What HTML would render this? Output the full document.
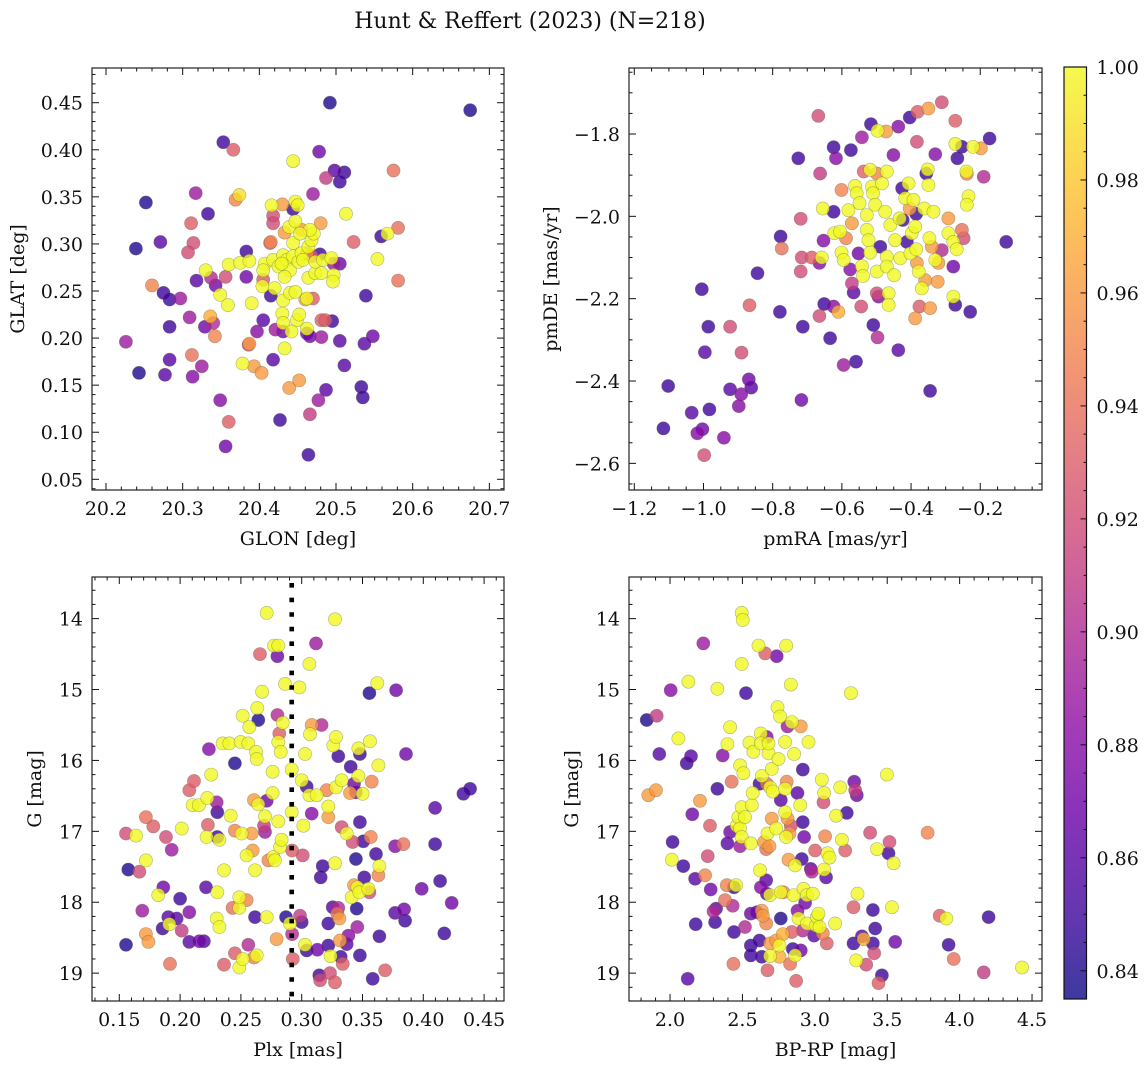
<!DOCTYPE html>
<html><head><meta charset="utf-8">
<style>
html,body{margin:0;padding:0;background:#fff;}
svg{display:block;font-family:"DejaVu Serif","Liberation Serif",serif;}
</style></head>
<body>
<svg id="fig" width="1148" height="1067" viewBox="0 0 1148 1067" xmlns="http://www.w3.org/2000/svg">
<text x="530" y="28" font-size="22" text-anchor="middle" fill="#111">Hunt &amp; Reffert (2023) (N=218)</text>
</svg>
<script>
// ---------- Panel 1 : GLON vs GLAT ----------
const glon=[20.492,20.675,20.353,20.366,20.478,20.444,20.498,20.511,20.575,20.487,20.505,20.252,20.317,20.369,20.374,20.333,20.470,20.416,20.430,20.447,20.450,20.513,20.418,20.418,20.444,20.311,20.314,20.307,20.271,20.239,20.318,20.337,20.356,20.260,20.343,20.275,20.283,20.297,20.383,20.383,20.414,20.415,20.405,20.415,20.330,20.349,20.359,20.360,20.375,20.387,20.390,20.404,20.420,
20.407,20.418,20.405,20.425,20.431,20.436,20.440,20.444,20.451,20.455,20.457,20.464,20.468,20.471,20.466,20.444,20.439,20.447,20.453,20.429,20.433,20.431,20.440,20.447,20.464,20.473,20.481,20.473,20.483,20.494,20.497,20.496,20.462,20.430,20.431,20.449,20.452,20.442,20.433,20.462,20.378,20.554,20.567,
20.431,20.421,20.462,20.466,20.481,20.481,20.486,20.495,20.505,20.460,20.470,20.433,20.455,20.480,20.462,20.468,20.479,20.497,20.505,20.523,20.559,20.581,20.581,20.539,20.537,20.548,20.511,20.533,20.535,20.487,20.477,20.466,20.464,20.427,20.439,20.452,20.418,20.405,20.397,20.386,20.387,20.393,20.403,20.340,20.336,20.342,20.329,20.309,20.283,20.226,20.243,20.277,20.283,20.312,20.313,20.325,20.349,20.360,20.356];
const glat=[0.450,0.442,0.408,0.400,0.398,0.388,0.378,0.376,0.378,0.370,0.366,0.344,0.354,0.347,0.352,0.332,0.353,0.341,0.342,0.345,0.341,0.332,0.330,0.322,0.337,0.322,0.301,0.291,0.302,0.295,0.261,0.264,0.265,0.256,0.256,0.248,0.241,0.242,0.292,0.265,0.301,0.302,0.262,0.245,0.272,0.246,0.235,0.278,0.280,0.282,0.237,0.255,0.253,
0.279,0.283,0.272,0.276,0.288,0.283,0.272,0.287,0.281,0.290,0.283,0.297,0.304,0.311,0.315,0.301,0.318,0.324,0.311,0.279,0.265,0.240,0.248,0.249,0.264,0.269,0.269,0.281,0.283,0.285,0.267,0.260,0.242,0.226,0.216,0.219,0.225,0.207,0.189,0.210,0.173,0.284,0.311,
0.207,0.209,0.205,0.202,0.201,0.219,0.219,0.218,0.197,0.241,0.242,0.312,0.315,0.322,0.290,0.287,0.289,0.279,0.279,0.302,0.308,0.317,0.261,0.245,0.194,0.202,0.171,0.148,0.137,0.145,0.134,0.119,0.076,0.113,0.147,0.155,0.177,0.219,0.207,0.193,0.194,0.170,0.163,0.216,0.223,0.202,0.212,0.222,0.212,0.196,0.163,0.161,0.177,0.182,0.159,0.170,0.134,0.111,0.085];
const prob1=[0.84,0.84,0.85,0.93,0.87,1.0,0.86,0.85,0.94,0.91,0.85,0.84,0.89,0.95,0.99,0.85,0.89,1.0,0.96,1.0,1.0,1.0,0.92,0.92,0.85,0.93,0.92,0.92,0.86,0.84,0.86,0.90,0.92,0.95,0.87,0.85,0.85,0.89,0.85,0.87,0.93,0.95,0.93,0.85,1.0,1.0,1.0,1.0,1.0,1.0,1.0,1.0,1.0,
1,1,1,1,1,1,1,1,1,1,1,1,1,1,1,1,1,1,1,1,1,1,1,1,1,1,1,1,1,1,1,1,1,1,1,1,1,1,1,1,1,1,1,
0.87,0.89,0.87,0.87,0.89,0.93,0.93,0.85,0.86,0.96,0.93,0.96,0.96,0.96,0.95,0.93,0.85,0.89,0.87,0.93,0.85,0.94,0.94,0.85,0.86,0.87,0.86,0.85,0.85,0.86,0.89,0.91,0.85,0.85,0.96,0.96,0.86,0.86,0.88,0.92,0.96,0.96,0.96,0.90,0.97,0.95,0.87,0.89,0.85,0.89,0.84,0.86,0.86,0.94,0.88,0.89,0.88,0.93,0.87];

// ---------- Panel 2 : pmRA vs pmDE ----------
const pmra=[-1.116,-1.102,-1.034,-1.018,-1.003,-0.998,-1.005,-0.986,-0.996,-0.983,-0.941,-0.923,-0.923,-0.891,-0.898,-0.890,-0.869,-0.862,-0.867,-0.844,-0.777,-0.774,-0.779,-0.726,-0.719,-0.716,-0.719,-0.713,-0.717,-0.687,-0.668,-0.663,-0.665,-0.658,-0.653,-0.655,-0.665,-0.651,-0.634,-0.624,-0.624,-0.617,-0.610,-0.624,-0.595,-0.622,-0.605,-0.601,-0.595,-0.601,-0.588,-0.581,-0.576,-0.571,-0.571,-0.566,-0.562,-0.557,-0.549,-0.552,-0.542,-0.539,-0.574,-0.559,-0.542,-0.537,-0.544,-0.528,-0.528,-0.523,-0.518,-0.513,-0.516,-0.518,-0.509,-0.510,-0.504,-0.499,-0.497,-0.472,-0.499,-0.494,-0.497,-0.489,-0.499,-0.484,-0.475,-0.470,-0.470,-0.470,-0.465,-0.465,-0.460,-0.451,-0.449,-0.446,-0.437,-0.437,-0.433,-0.431,-0.426,-0.424,-0.417,-0.412,-0.404,-0.407,-0.404,-0.402,-0.398,-0.393,-0.385,-0.388,-0.385,-0.383,-0.381,-0.378,-0.376,-0.388,-0.383,-0.369,-0.359,-0.362,-0.356,-0.352,-0.350,-0.350,-0.347,-0.345,-0.345,-0.340,-0.335,-0.330,-0.330,-0.323,-0.321,-0.311,-0.311,-0.292,-0.292,-0.278,-0.278,-0.278,-0.272,-0.268,-0.272,-0.272,-0.253,-0.266,-0.253,-0.248,-0.240,-0.239,-0.234,-0.239,-0.229,-0.221,-0.198,-0.190,-0.173,-0.125];
const pmde=[-2.515,-2.412,-2.477,-2.527,-2.517,-2.580,-2.177,-2.268,-2.330,-2.469,-2.538,-2.268,-2.420,-2.432,-2.461,-2.331,-2.396,-2.416,-2.216,-2.138,-2.049,-2.078,-2.232,-1.859,-2.006,-2.100,-2.134,-2.268,-2.446,-2.100,-1.756,-1.896,-2.113,-2.100,-2.059,-1.981,-2.242,-2.213,-2.296,-1.989,-1.832,-1.859,-2.232,-2.219,-2.361,-2.041,-2.037,-2.088,-2.106,-1.936,-2.053,-1.985,-2.129,-2.017,-2.163,-2.185,-1.926,-1.944,-1.968,-2.090,-2.121,-2.145,-1.839,-2.353,-1.808,-1.891,-2.219,-1.997,-2.033,-2.058,-1.887,-1.928,-1.776,-2.088,-2.264,-1.944,-1.972,-1.896,-1.792,-1.794,-2.187,-2.195,-2.294,-2.074,-2.134,-1.920,-1.989,-2.098,-2.122,-1.891,-2.187,-2.215,-2.021,-1.851,-2.143,-2.058,-2.325,-1.782,-2.005,-2.102,-1.932,-2.009,-1.956,-2.062,-1.760,-1.920,-1.981,-2.090,-2.041,-1.960,-1.994,-2.025,-2.080,-1.819,-1.746,-2.134,-2.219,-2.248,-2.113,-2.175,-2.155,-1.981,-1.896,-1.886,-1.924,-1.738,-2.053,-2.223,-2.424,-2.074,-1.989,-1.849,-2.106,-2.159,-2.113,-1.723,-2.082,-2.005,-2.041,-2.062,-2.122,-2.195,-2.215,-2.080,-1.768,-1.824,-1.831,-1.859,-2.033,-2.053,-1.891,-1.897,-1.951,-1.972,-2.232,-1.831,-1.835,-1.904,-1.811,-2.062];
const prob2=[0.85,0.85,0.86,0.88,0.87,0.92,0.85,0.85,0.86,0.85,0.88,0.92,0.86,0.88,0.88,0.92,0.87,0.86,0.93,0.85,0.85,0.94,0.85,0.85,0.92,0.92,0.92,0.85,0.87,0.93,0.92,0.91,0.88,1,0.88,1,0.92,0.85,0.85,0.85,0.85,0.88,0.97,0.88,0.89,1,1,1,1,0.95,0.95,1,0.88,0.96,0.91,0.86,1,1,1,0.87,1,1,0.85,0.85,0.89,0.93,0.92,1,1,1,1,1,0.85,1,0.85,1,1,0.95,1,0.96,0.92,0.88,0.90,0.85,1,1,1,1,1,1,1,1,1,0.88,1,1,0.86,0.88,1,1,0.85,0.85,1,0.85,0.85,1,0.96,1,1,1,0.85,1,1,0.92,0.93,1,0.93,0.96,0.96,1,0.96,1,0.85,1,1,0.96,1,0.96,0.85,0.96,1,0.88,1,0.96,0.96,0.92,0.90,0.96,1,1,0.87,1,0.85,1,0.93,1,0.85,0.85,0.94,0.92,1,0.95,1,1,0.85,1,0.96,0.90,0.85,0.85];

// ---------- Panel 3 : Plx vs G ----------
const plx=[0.1555,0.1555,0.1574,0.1637,0.1665,0.1689,0.1719,0.1719,0.1719,0.1739,0.1780,0.1821,0.1856,0.1862,0.1884,0.1903,0.1911,0.1917,0.1931,0.1972,0.2000,0.2013,0.2013,0.2076,0.2076,0.2076,0.2103,0.2114,0.2155,0.2158,0.2196,0.2213,0.2224,0.2218,0.2229,0.2237,0.2256,0.2301,0.2306,0.2301,0.2306,0.2306,0.2323,0.2323,0.2350,0.2361,0.2361,0.2405,0.2416,0.2451,0.2451,0.2451,0.2432,0.2487,0.2487,0.2487,0.2498,0.2506,0.2515,0.2515,0.2547,0.2547,0.2561,0.2561,0.2569,0.2589,0.2597,0.2608,0.2608,0.2616,0.2630,0.2616,0.2624,0.2630,0.2635,0.2643,0.2643,0.2657,0.2674,0.2698,0.2698,0.2690,0.2712,0.2712,0.2712,0.2726,0.2761,0.2761,0.2767,0.2780,0.2772,0.2794,0.2800,0.2808,0.2800,0.2808,0.2816,0.2808,0.2822,0.2827,0.2835,0.2844,0.2863,0.2871,0.2918,0.2918,0.2904,0.2921,0.2921,0.2927,0.2981,0.2986,0.3000,0.3000,0.3014,0.3008,0.3027,0.3027,0.3041,0.3041,0.3063,0.3068,0.3063,0.3082,0.3082,0.3118,0.3123,0.3129,0.3145,0.3151,0.3156,0.3164,0.3173,0.3206,0.3219,0.3219,0.3219,0.3219,0.3233,0.3238,0.3255,0.3260,0.3274,0.3282,0.3282,0.3274,0.3274,0.3293,0.3301,0.3301,0.3310,0.3315,0.3321,0.3329,0.3329,0.3337,0.3370,0.3370,0.3384,0.3397,0.3403,0.3411,0.3419,0.3430,0.3430,0.3446,0.3446,0.3452,0.3457,0.3457,0.3466,0.3479,0.3479,0.3479,0.3466,0.3474,0.3501,0.3507,0.3515,0.3557,0.3548,0.3557,0.3562,0.3568,0.3576,0.3584,0.3611,0.3622,0.3631,0.3631,0.3639,0.3639,0.3686,0.3768,0.3768,0.3776,0.3836,0.3842,0.3850,0.3858,0.3987,0.4097,0.4097,0.4138,0.4173,0.4234,0.4330,0.4385];
const gmag3=[18.60,17.03,17.54,17.06,17.57,18.12,16.80,17.41,18.45,18.56,16.93,17.90,18.37,17.79,17.08,18.21,18.31,18.87,17.26,18.23,17.95,16.96,18.40,18.14,18.56,16.42,16.63,16.29,16.63,18.55,18.55,17.79,16.53,17.08,16.91,15.84,16.20,16.59,16.73,18.23,17.86,17.08,17.12,18.35,15.76,18.88,17.55,15.76,16.78,18.72,16.04,16.99,18.08,18.08,17.93,18.92,15.74,17.03,15.37,18.80,17.97,17.34,18.60,15.76,15.53,17.03,17.27,18.78,16.56,18.21,18.75,17.55,15.88,15.98,15.26,15.43,16.62,14.50,15.03,16.79,17.01,16.92,16.57,13.92,18.21,17.41,16.16,16.46,17.36,17.41,14.38,18.52,14.53,14.38,15.36,16.86,15.62,15.74,17.22,15.88,17.12,15.47,14.92,18.21,16.13,16.73,18.30,17.27,18.45,18.80,14.97,18.19,18.28,16.28,16.92,17.34,15.91,18.60,18.68,16.37,14.64,15.63,16.49,15.50,16.75,14.35,16.49,18.67,19.03,19.10,17.65,15.50,17.49,16.42,16.65,16.80,18.30,18.61,19.00,18.76,18.07,15.79,19.13,15.67,16.38,17.45,14.01,18.16,18.08,15.94,18.23,18.54,18.77,16.28,16.94,18.87,17.03,18.59,18.47,16.46,16.09,17.93,17.15,17.76,16.33,16.45,17.39,18.09,18.35,17.79,15.83,15.91,16.87,18.75,16.22,17.86,16.47,17.14,17.65,15.05,17.81,17.86,15.73,17.08,16.30,19.08,17.32,14.91,16.07,17.62,17.49,18.48,18.96,18.15,17.21,15.01,17.18,18.10,18.26,15.91,17.81,16.67,17.18,17.70,18.44,18.01,16.47,16.40];
const prob3=[0.84,0.92,0.84,1,0.92,0.89,0.94,1,0.96,0.96,0.93,1,0.85,0.87,0.92,0.86,1,0.94,0.89,0.86,0.85,1,0.91,0.88,0.86,0.93,1,0.93,1,0.87,0.86,0.86,1,1,0.93,0.88,1,0.89,0.85,1,1,0.85,1,1,1,0.93,1,1,1,0.93,0.84,0.95,0.94,1,1,1,1,1,1,1,0.95,1,0.90,1,1,0.96,0.96,0.95,0.96,0.85,1,1,1,1,1,0.84,1,0.93,1,1,0.89,0.91,0.87,1,1,0.95,1,1,1,1,1,0.96,0.87,1,0.90,1,0.93,1,1,1,1,1,1,0.84,1,1,1,0.93,0.90,0.93,1,0.91,0.85,1,1,0.92,1,1,0.85,0.85,1,1,1,0.96,0.88,0.89,1,0.87,0.85,0.92,0.85,0.90,0.85,0.95,1,0.96,0.85,0.85,0.92,1,0.86,1,0.93,1,1,1,1,0.94,0.90,0.85,0.96,0.96,0.85,1,0.92,0.93,1,0.86,0.88,0.96,0.85,1,0.92,0.96,0.87,0.87,0.84,0.84,0.89,1,1,0.85,0.85,0.85,1,1,1,0.85,0.85,0.84,1,0.92,1,0.95,0.95,0.85,0.85,1,1,0.95,1,0.85,0.93,0.86,0.88,0.87,0.94,0.87,0.85,0.87,0.87,0.86,0.85,0.85,0.85,0.87,0.85,0.85];

// ---------- Panel 4 : BP-RP vs G ----------
const bprp=[1.839,1.850,1.903,1.908,1.926,2.005,2.018,2.012,2.058,2.092,2.115,2.122,2.127,2.145,2.154,2.173,2.177,2.207,2.230,2.242,2.260,2.276,2.281,2.300,2.311,2.318,2.327,2.327,2.364,2.380,2.392,2.396,2.396,2.415,2.415,2.426,2.438,2.442,2.433,2.442,2.456,2.461,2.472,2.484,2.484,2.484,2.495,2.495,2.502,2.495,2.495,2.507,2.518,2.518,2.525,2.548,2.558,2.558,2.558,2.558,2.565,2.571,2.576,2.599,2.611,2.618,2.618,2.622,2.627,2.627,2.627,2.634,2.634,2.634,2.641,2.650,2.657,2.664,2.664,2.668,2.668,2.664,2.668,2.673,2.673,2.680,2.680,2.687,2.691,2.691,2.691,2.691,2.703,2.703,2.710,2.733,2.733,2.737,2.742,2.749,2.756,2.756,2.760,2.765,2.765,2.765,2.779,2.783,2.795,2.795,2.795,2.802,2.802,2.806,2.811,2.811,2.818,2.825,2.829,2.834,2.834,2.841,2.841,2.848,2.853,2.857,2.864,2.864,2.871,2.880,2.880,2.887,2.899,2.903,2.903,2.910,2.917,2.917,2.917,2.922,2.926,2.933,2.945,2.945,2.956,2.972,2.979,2.986,2.995,3.002,3.009,3.014,3.025,3.032,3.048,3.055,3.060,3.064,3.064,3.071,3.078,3.083,3.088,3.101,3.140,3.147,3.175,3.187,3.210,3.221,3.249,3.267,3.267,3.272,3.279,3.290,3.286,3.295,3.325,3.336,3.355,3.382,3.401,3.401,3.410,3.417,3.429,3.440,3.463,3.498,3.509,3.516,3.532,3.544,3.555,3.779,3.862,3.908,3.924,3.959,4.166,4.200,4.431];
const gmag4=[15.43,16.49,16.42,15.37,15.91,15.01,17.15,17.40,15.69,17.49,16.04,19.08,14.89,15.94,16.76,17.67,18.31,16.57,14.35,17.62,17.35,16.92,17.82,18.13,18.28,18.09,16.40,14.99,15.93,17.97,17.76,15.77,17.17,15.53,17.01,16.30,18.87,18.42,18.05,17.79,17.76,16.92,16.80,17.21,16.96,16.07,14.64,13.92,14.02,16.66,17.08,16.18,18.35,16.80,15.05,15.75,17.17,18.16,18.61,18.75,16.63,16.46,15.88,18.14,14.38,18.54,16.33,17.55,15.62,15.76,17.79,18.77,18.12,16.22,18.19,17.15,14.49,18.30,17.25,16.33,15.67,17.69,17.88,18.96,17.03,15.90,15.76,17.21,18.58,18.76,17.90,16.38,16.12,16.82,16.44,18.54,16.96,14.53,15.25,15.98,18.77,18.61,15.38,16.56,18.23,17.86,18.45,17.86,16.73,16.40,15.74,14.38,17.08,16.30,16.82,15.52,17.40,17.03,18.87,14.93,16.92,18.42,15.46,18.66,17.90,15.91,18.75,17.48,19.11,18.12,16.46,18.23,16.63,15.52,18.68,17.39,16.87,18.40,16.13,17.81,17.08,18.01,18.30,17.90,15.74,17.53,17.57,17.88,18.47,17.27,18.33,18.21,18.16,18.35,16.27,18.44,16.59,17.54,16.46,17.07,17.65,18.58,17.31,17.37,18.30,16.78,16.38,17.12,17.27,16.74,15.05,18.07,18.58,16.30,16.42,16.49,18.82,17.88,18.48,18.52,18.88,17.02,18.11,18.58,18.72,18.37,17.25,19.14,19.03,16.20,17.31,17.15,18.07,17.45,18.56,17.02,18.19,18.23,18.60,18.80,18.99,18.21,18.92];
const prob4=[0.84,0.96,0.96,0.91,0.86,0.88,0.85,1,1,0.85,0.85,0.86,1,0.86,0.87,0.86,0.85,0.96,0.89,0.95,0.92,0.93,0.87,0.90,0.85,0.86,0.85,1,0.88,0.94,0.95,1,0.86,1,0.87,0.94,0.94,0.85,0.90,0.85,1,1,1,0.89,1,1,1,1,1,1,1,1,0.90,1,0.85,1,1,0.87,0.85,0.85,1,1,1,0.87,1,0.85,0.85,1,1,1,0.88,0.85,0.96,1,0.96,0.96,0.93,0.95,0.94,0.94,0.88,0.86,0.86,0.93,1,1,1,0.96,0.96,1,1,1,1,0.96,1,0.96,1,0.87,1,1,0.97,1,1,0.86,0.84,1,0.97,0.95,1,1,1,1,1,0.95,0.96,0.89,0.96,0.96,0.94,1,0.92,0.93,1,0.85,1,1,1,1,0.93,0.88,0.86,1,1,0.96,0.87,0.85,0.85,0.90,0.85,1,0.87,0.87,1,1,1,0.86,0.90,1,0.86,0.93,1,1,1,1,1,0.95,0.92,1,1,0.95,0.86,0.93,1,1,1,1,1,1,0.93,0.85,1,0.93,0.85,0.87,0.91,0.87,1,1,0.86,0.97,0.92,0.92,0.85,0.85,0.92,0.85,1,0.93,0.85,1,0.85,0.92,1,1,0.87,0.95,0.93,1,0.85,0.94,0.91,0.85,1];

// ---------- Tick label arrays ----------
const p1XTicks=[20.2,20.3,20.4,20.5,20.6,20.7];
const p1YTicks=[0.05,0.10,0.15,0.20,0.25,0.30,0.35,0.40,0.45];
const p2XTicks=[-1.2,-1.0,-0.8,-0.6,-0.4,-0.2];
const p2YTicks=[-2.6,-2.4,-2.2,-2.0,-1.8];
const p3XTicks=[0.15,0.20,0.25,0.30,0.35,0.40,0.45];
const gTicks=[14,15,16,17,18,19];
const p4XTicks=[2.0,2.5,3.0,3.5,4.0,4.5];
const cbarTicks=[0.84,0.86,0.88,0.90,0.92,0.94,0.96,0.98,1.00];
const plxCut=0.2918;

const NS="http://www.w3.org/2000/svg";
const svg=document.getElementById('fig');
const VMIN=0.835,VMAX=1.0;
const FS=19;
const plasma=[[13,8,135],[65,4,157],[106,0,168],[143,13,164],[177,42,144],[204,71,120],[225,100,98],[242,132,75],[252,166,54],[252,206,37],[240,249,33]];
function cmap(v){let t=(v-VMIN)/(VMAX-VMIN);t=Math.max(0,Math.min(1,t))*10;const i=Math.min(9,Math.floor(t)),f=t-i;const a=plasma[i],b=plasma[i+1];return `rgb(${Math.round(a[0]+(b[0]-a[0])*f)},${Math.round(a[1]+(b[1]-a[1])*f)},${Math.round(a[2]+(b[2]-a[2])*f)})`;}
function el(tag,attrs,parent){const e=document.createElementNS(NS,tag);for(const k in attrs)e.setAttribute(k,attrs[k]);(parent||svg).appendChild(e);return e;}
function lin(d0,d1,r0,r1){return v=>r0+(v-d0)/(d1-d0)*(r1-r0);}
function fmt(v,dec){return (v<0?'\u2212':'')+Math.abs(v).toFixed(dec);}

function panel(cfg){
  const g=el('g',{});
  
  
  const {L,R,T,B}=cfg;
  const sx=lin(cfg.xd[0],cfg.xd[1],L,R);
  const sy=cfg.yinv?lin(cfg.yd[0],cfg.yd[1],T,B):lin(cfg.yd[0],cfg.yd[1],B,T);
  const idx=cfg.xs.map((_,i)=>i).sort((a,b)=>cfg.ps[a]-cfg.ps[b]);
  const pg=el('g',{},g);
  
  
  idx.forEach(i=>{
    const c=el('circle',{cx:sx(cfg.xs[i]).toFixed(1),cy:sy(cfg.ys[i]).toFixed(1),r:6.6,fill:cmap(cfg.ps[i]),'fill-opacity':0.8,stroke:'rgba(90,90,60,0.45)','stroke-width':0.6},pg);
    
    
  });
  if(cfg.vline!==undefined){
    const ln=el('line',{x1:sx(cfg.vline),x2:sx(cfg.vline),y1:T+6,y2:B,stroke:'#000','stroke-width':4.6,'stroke-dasharray':'4.6 10'},g);
    
    
  }
  const tk=el('g',{stroke:'#111','stroke-width':1},g);
  
  
  const xmin=Math.min(...cfg.xd),xmax=Math.max(...cfg.xd);
  for(let k=Math.ceil(xmin/cfg.xminor-1e-6);k*cfg.xminor<=xmax+1e-9;k++){
    const v=k*cfg.xminor,x=sx(v);const major=Math.abs(v/cfg.xmajor-Math.round(v/cfg.xmajor))<1e-4;const len=major?7:3.5;
    el('line',{x1:x,x2:x,y1:B,y2:B-len},tk);el('line',{x1:x,x2:x,y1:T,y2:T+len},tk);
  }
  const ymin=Math.min(...cfg.yd),ymax=Math.max(...cfg.yd);
  for(let k=Math.ceil(ymin/cfg.yminor-1e-6);k*cfg.yminor<=ymax+1e-9;k++){
    const v=k*cfg.yminor,y=sy(v);const major=Math.abs(v/cfg.ymajor-Math.round(v/cfg.ymajor))<1e-4;const len=major?7:3.5;
    el('line',{x1:L,x2:L+len,y1:y,y2:y},tk);el('line',{x1:R,x2:R-len,y1:y,y2:y},tk);
  }
  const fr=el('rect',{x:L,y:T,width:R-L,height:B-T,fill:'none',stroke:'#222','stroke-width':1.2},g);
  
  
  cfg.xticks.forEach(v=>{const t=el('text',{x:sx(v),y:B+25,'font-size':FS,'text-anchor':'middle',fill:'#111'},g);t.textContent=fmt(v,cfg.xdec);
    
    });
  cfg.yticks.forEach(v=>{const t=el('text',{x:L-9,y:sy(v)+7,'font-size':FS,'text-anchor':'end',fill:'#111'},g);t.textContent=fmt(v,cfg.ydec);
    
    });
  const xl=el('text',{x:(L+R)/2,y:B+55,'font-size':FS,'text-anchor':'middle',fill:'#111'},g);xl.textContent=cfg.xlabel;
  
  
  const yl=el('text',{x:0,y:0,'font-size':FS,'text-anchor':'middle',fill:'#111',transform:`translate(${cfg.ylx},${(T+B)/2}) rotate(-90)`},g);yl.textContent=cfg.ylabel;
  
  
}

panel({name:'glon-glat-panel',L:92,R:504,T:68,B:490,xd:[20.18174,20.7191],yd:[0.03864,0.48686],xs:glon,ys:glat,ps:prob1,
  xmajor:0.1,xminor:0.02,ymajor:0.05,yminor:0.01,xticks:p1XTicks,yticks:p1YTicks,xdec:1,ydec:2,xlabel:'GLON [deg]',ylabel:'GLAT [deg]',ylx:24});
panel({name:'pm-panel',L:629,R:1042,T:68,B:490,xd:[-1.2153,-0.0215],yd:[-2.6647,-1.6397],xs:pmra,ys:pmde,ps:prob2,
  xmajor:0.2,xminor:0.05,ymajor:0.2,yminor:0.05,xticks:p2XTicks,yticks:p2YTicks,xdec:1,ydec:1,xlabel:'pmRA [mas/yr]',ylabel:'pmDE [mas/yr]',ylx:557});
panel({name:'plx-g-panel',L:92,R:504,T:577,B:1001,xd:[0.12755,0.46637],yd:[13.413,19.393],yinv:true,xs:plx,ys:gmag3,ps:prob3,
  xmajor:0.05,xminor:0.01,ymajor:1,yminor:0.2,xticks:p3XTicks,yticks:gTicks,xdec:2,ydec:0,xlabel:'Plx [mas]',ylabel:'G [mag]',ylx:41,vline:plxCut});
panel({name:'cmd-panel',L:629,R:1042,T:577,B:1001,xd:[1.7167,4.5688],yd:[13.413,19.393],yinv:true,xs:bprp,ys:gmag4,ps:prob4,
  xmajor:0.5,xminor:0.1,ymajor:1,yminor:0.2,xticks:p4XTicks,yticks:gTicks,xdec:1,ydec:0,xlabel:'BP-RP [mag]',ylabel:'G [mag]',ylx:578});

// ---------- Colorbar ----------
(function(){
  const g=el('g',{});
  
  
  const L=1064,R=1086.5,T=67,B=999;
  const sy=lin(VMIN,VMAX,B,T);
  const defs=el('defs',{},g);
  const grad=el('linearGradient',{id:'cbg',x1:0,y1:1,x2:0,y2:0},defs);
  for(let i=0;i<=20;i++){const v=VMIN+(VMAX-VMIN)*i/20;el('stop',{offset:(i/20),'stop-color':cmap(v)},grad);}
  const r=el('rect',{x:L,y:T,width:R-L,height:B-T,fill:'url(#cbg)','fill-opacity':0.8,stroke:'#111','stroke-width':1.2},g);
  
  
  for(let k=Math.ceil(VMIN/0.005-1e-6);k*0.005<=VMAX+1e-9;k++){const v=k*0.005,y=sy(v);const major=Math.abs(v/0.02-Math.round(v/0.02))<1e-4;
    el('line',{x1:R,x2:R-(major?6:3),y1:y,y2:y,stroke:'#111','stroke-width':1},g);}
  cbarTicks.forEach(v=>{const t=el('text',{x:R+10,y:sy(v)+7,'font-size':FS,fill:'#111'},g);t.textContent=v.toFixed(2);
    
    });
})();
</script>
</body></html>
